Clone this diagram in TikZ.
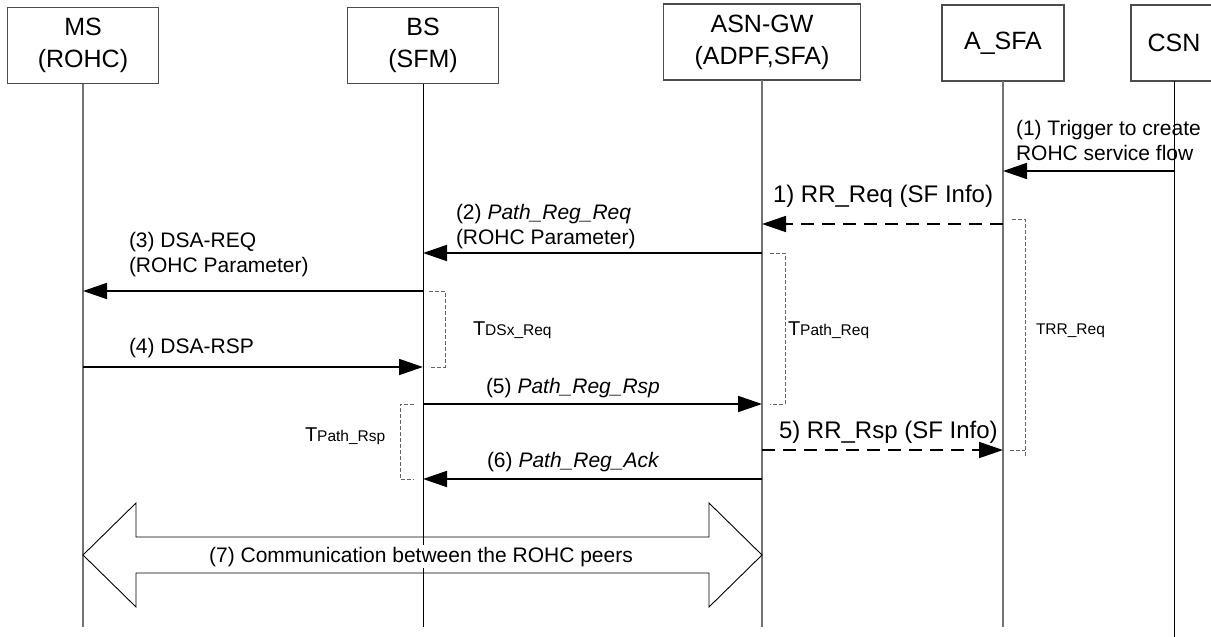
\documentclass[tikz,border=0pt]{standalone}
\usepackage{fontspec}
\setmainfont{Liberation Sans}
\usetikzlibrary{arrows.meta}
\newcommand\tsubfont{\fontsize{15.5}{16}\selectfont}
\begin{document}
\begin{tikzpicture}[x=1pt,y=-1pt,inner sep=0pt,outer sep=0pt,
entity/.style={draw=black!70,line width=1.2pt,rectangle,minimum height=76pt,align=center,font=\fontsize{25}{32}\selectfont},
life/.style={draw=black!55,line width=1.5pt},
lifedark/.style={draw=black,line width=1pt},
msg/.style={line width=1.8pt,-{Triangle[length=24pt,width=16pt]}},
rrmsg/.style={msg,dash pattern=on 13pt off 8pt},
timer/.style={draw=black!60,line width=0.9pt,dash pattern=on 4pt off 2pt},
lbl/.style={align=left,font=\fontsize{21}{25}\selectfont},
rrlbl/.style={font=\fontsize{24}{28}\selectfont},
tlbl/.style={font=\fontsize{20}{20}\selectfont},
tsub/.style={font=\tsubfont}]

\useasboundingbox (0,0) rectangle (1211,637);

\node[entity,minimum width=151pt] (ms) at (83,45.5) {MS\\(ROHC)};
\node[entity,minimum width=151pt] (bs) at (423,45.5) {BS\\(SFM)};
\node[entity,minimum width=197pt] (asn) at (762,42) {ASN-GW\\(ADPF,SFA)};
\node[entity,minimum width=122pt] (asfa) at (1003,43) {A\_SFA};
\node[entity,minimum width=86pt] (csn) at (1174,43) {CSN};

\coordinate (bot) at (0,627);
\coordinate (csnbot) at (0,637);
\draw[life] (ms.south) -- (ms.south |- bot);
\draw[lifedark] (bs.south) -- (bs.south |- bot);
\draw[life] (asn.south) -- (asn.south |- bot);
\draw[life] (asfa.south) -- (asfa.south |- bot);
\draw[lifedark] (csn.south) -- (csn.south |- csnbot);

\coordinate (m1) at (0,171);
\coordinate (m1r) at (0,224);
\coordinate (m2) at (0,253);
\coordinate (m3) at (0,291);
\coordinate (m4) at (0,367);
\coordinate (m5) at (0,404);
\coordinate (m5r) at (0,450);
\coordinate (m6) at (0,479);

\draw[msg] (csn |- m1) -- (asfa |- m1);
\draw[rrmsg] (asfa |- m1r) -- (asn |- m1r);
\draw[msg] (asn |- m2) -- (bs |- m2);
\draw[msg] (bs |- m3) -- (ms |- m3);
\draw[msg] (ms |- m4) -- (bs |- m4);
\draw[msg] (bs |- m5) -- (asn |- m5);
\draw[rrmsg] (asn |- m5r) -- (asfa |- m5r);
\draw[msg] (asn |- m6) -- (bs |- m6);

\node[lbl,anchor=west] (l1) at (1016,140) {(1) Trigger to create\\ROHC service flow};
\node[rrlbl,anchor=base west] (l1r) at (773,202) {1) RR\_Req (SF Info)};
\node[lbl,anchor=west] (l2) at (456,227) {(2) \textit{Path\_Reg\_Req}\\(ROHC Parameter)};
\node[lbl,anchor=west] (l3) at (129,255) {(3) DSA-REQ\\(ROHC Parameter)};
\node[lbl,anchor=base west] (l4) at (129,353) {(4) DSA-RSP};
\node[lbl,anchor=base west] (l5) at (486,393) {(5) \textit{Path\_Reg\_Rsp}};
\node[rrlbl,anchor=base west] (l5r) at (779,438) {5) RR\_Rsp (SF Info)};
\node[lbl,anchor=base west] (l6) at (487,467) {(6) \textit{Path\_Reg\_Ack}};

\draw[timer] (429,291) -- (445,291) -- (445,367) -- (429,367);
\draw[timer] (770,253) -- (785,253) -- (785,404) -- (770,404);
\draw[timer] (414,404) -- (400,404) -- (400,479) -- (414,479);
\draw[timer] (1012,219) -- (1025,219) -- (1025,457);
\draw[timer] (1010,450) -- (1025,450);

\node[tlbl,anchor=base west] (tdsx) at (473,335) {T{\tsubfont DSx\_Req}};
\node[tlbl,anchor=base west] (tpreq) at (788,335) {T{\tsubfont Path\_Req}};
\node[tsub,anchor=base west] (trr) at (1036,334) {TRR\_Req};
\node[tlbl,anchor=base west] (tprsp) at (305,441) {T{\tsubfont Path\_Rsp}};

\draw[line width=0.9pt] (83,555) -- (136,503) -- (136,537) -- (709,537) -- (709,503)
  -- (762,555) -- (709,607) -- (709,573) -- (136,573) -- (136,607) -- cycle;
\node[lbl,fill=white,inner sep=2pt,anchor=base] (l7) at (421,562) {(7) Communication between the ROHC peers};
\end{tikzpicture}
\end{document}
